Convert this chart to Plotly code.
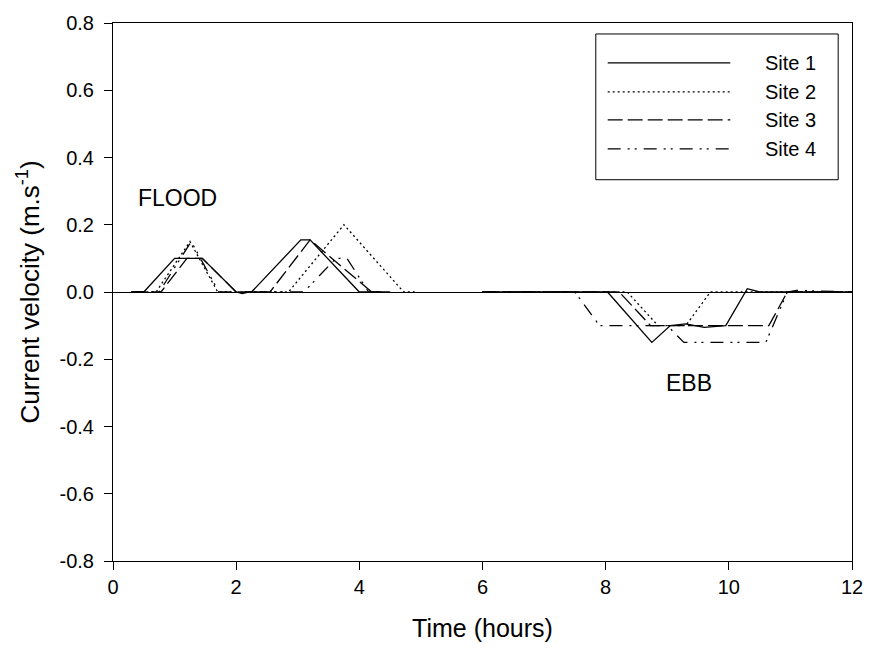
import plotly.graph_objects as go

# ---- data (hours, m/s) ----
site_names = ["Site 1", "Site 2", "Site 3", "Site 4"]

site1_x = [0.3, 0.5, 1.0, 1.45, 2.0, 2.1, 2.2, 2.25, 3.05, 3.2, 4.0, 4.35, None,
           6.0, 8.03, 8.75, 9.05, 9.3, 9.6, 9.95, 10.3, 10.5, 12.0]
site1_y = [0, 0, 0.10, 0.10, 0, -0.005, 0, 0, 0.155, 0.155, 0, 0, None,
           0, 0, -0.15, -0.10, -0.095, -0.105, -0.10, 0.01, 0, 0]

site2_x = [0.3, 0.7, 1.25, 1.7, 2.85, 3.75, 4.72, 4.95, None,
           6.0, 8.35, 8.85, 9.3, 9.7, 12.0]
site2_y = [0, 0, 0.15, 0, 0, 0.20, 0, 0, None,
           0, 0, -0.10, -0.10, 0, 0]

site3_x = [0.3, 0.78, 1.2, 1.45, 2.0, 2.55, 3.2, 4.2, 4.5, None,
           6.0, 8.22, 8.73, 10.65, 10.95, 12.0]
site3_y = [0, 0, 0.10, 0.10, 0, 0, 0.155, 0, 0, None,
           0, 0, -0.10, -0.10, 0, 0]

site4_x = [0.3, 0.75, 1.27, 1.72, 3.1, 3.62, 3.8, 4.15, 4.4, None,
           6.0, 7.5, 7.9, 9.0, 9.27, 10.6, 10.95, 11.1, 12.0]
site4_y = [0, 0, 0.15, 0, 0, 0.10, 0.10, 0, 0, None,
           0, 0, -0.10, -0.10, -0.15, -0.15, 0, 0.005, 0]

x_ticks = [0, 2, 4, 6, 8, 10, 12]
y_ticks = [-0.8, -0.6, -0.4, -0.2, 0.0, 0.2, 0.4, 0.6, 0.8]

# ---- styles ----
FONT = "Liberation Sans, Arial, sans-serif"
dashes = ["solid", "2px,3px", "15px,5px", "13px,7px,2px,5px,2px,7px"]
series = [(site1_x, site1_y), (site2_x, site2_y), (site3_x, site3_y), (site4_x, site4_y)]

fig = go.Figure()
for name, (xs, ys), d in zip(site_names, series, dashes):
    fig.add_trace(go.Scatter(x=xs, y=ys, mode="lines", name=name,
                             line=dict(color="black", width=1.3, dash=d),
                             connectgaps=False, showlegend=False))

# custom legend (SigmaPlot style)
shapes = [dict(type="rect", xref="paper", yref="paper",
               x0=0.6533, x1=0.9813, y0=0.7087, y1=0.9796,
               line=dict(color="black", width=1), fillcolor="white", layer="below")]
annotations = []
legend_y = [0.9258, 0.8720, 0.8200, 0.7662]
for name, d, ly in zip(site_names, dashes, legend_y):
    shapes.append(dict(type="line", xref="paper", yref="paper",
                       x0=0.6694, x1=0.8353, y0=ly, y1=ly,
                       line=dict(color="black", width=1.3, dash=d)))
    annotations.append(dict(xref="paper", yref="paper", x=0.8796, y=ly,
                            text=name, showarrow=False, xanchor="left", yanchor="middle",
                            font=dict(family=FONT, size=20, color="black")))

annotations.append(dict(x=1.04, y=0.28, xref="x", yref="y", text="FLOOD", showarrow=False,
                        font=dict(family=FONT, size=23, color="black")))
annotations.append(dict(x=9.35, y=-0.27, xref="x", yref="y", text="EBB", showarrow=False,
                        font=dict(family=FONT, size=23, color="black")))

fig.update_layout(
    width=875, height=652,
    margin=dict(l=113, r=15, t=22, b=91),
    paper_bgcolor="white", plot_bgcolor="white",
    font=dict(family=FONT, color="black"),
    shapes=shapes, annotations=annotations,
    showlegend=False,
)
fig.update_xaxes(range=[0, 12], tickvals=x_ticks, ticktext=[str(v) for v in x_ticks],
                 showline=True, linecolor="black", linewidth=1, mirror=True,
                 ticks="outside", ticklen=8, tickcolor="black",
                 showgrid=False, zeroline=False,
                 tickfont=dict(family=FONT, size=20, color="black"),
                 title=dict(text="Time (hours)", font=dict(family=FONT, size=25, color="black"),
                            standoff=22))
fig.update_yaxes(range=[-0.8, 0.8], tickvals=y_ticks, ticktext=["%.1f" % v for v in y_ticks],
                 showline=True, linecolor="black", linewidth=1, mirror=True,
                 ticks="outside", ticklen=8, tickcolor="black",
                 showgrid=False, zeroline=True, zerolinecolor="black", zerolinewidth=1,
                 tickfont=dict(family=FONT, size=20, color="black"),
                 ticklabelstandoff=6,
                 title=dict(text="Current velocity (m.s<sup>-1</sup>)",
                            font=dict(family=FONT, size=26, color="black"), standoff=12))

fig.write_html("out.html")
